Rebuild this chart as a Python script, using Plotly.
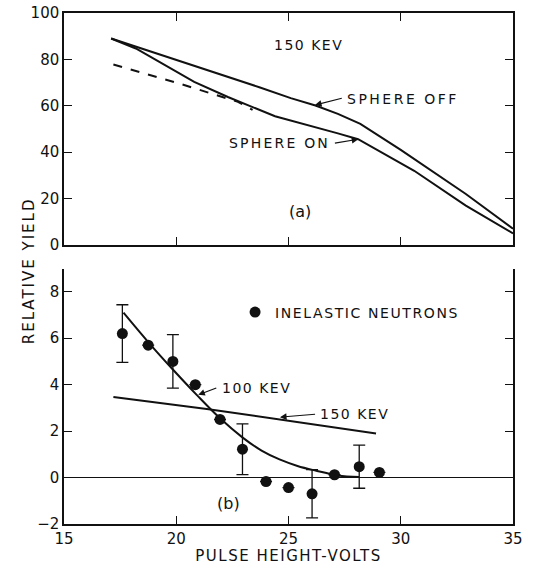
import plotly.graph_objects as go
from plotly.subplots import make_subplots

# ---- Panel (a): 150 keV, relative yield vs pulse height ----
off_x = [17.1, 20.0, 23.7, 25.1, 26.2, 27.2, 28.2, 30.0, 32.9, 35.0]
off_y = [89.0, 79.9, 68.0, 63.3, 60.1, 56.5, 52.2, 41.0, 22.0, 7.0]

on_x = [17.1, 18.2, 20.8, 22.3, 24.4, 26.0, 27.2, 28.1, 30.6, 32.9, 35.0]
on_y = [89.0, 84.7, 70.3, 63.8, 55.5, 51.4, 48.1, 45.6, 32.0, 17.0, 5.0]

dash_x = [17.2, 20.0, 22.75, 23.4]
dash_y = [77.8, 70.0, 61.7, 58.2]

# ---- Panel (b): inelastic neutrons ----
pts_x = [17.6, 18.75, 19.85, 20.85, 21.95, 22.95, 24.0, 25.0, 26.05, 27.05, 28.15, 29.05]
pts_y = [6.2, 5.7, 5.0, 4.0, 2.5, 1.22, -0.17, -0.43, -0.7, 0.12, 0.47, 0.22]
pts_err = [1.24, 0, 1.15, 0, 0, 1.09, 0, 0, 1.04, 0, 0.93, 0]

kev100_x = [17.65, 18.8, 19.87, 20.91, 21.95, 22.96, 23.8, 24.6, 25.4, 26.2, 27.2, 28.15]
kev100_y = [7.1, 5.78, 4.63, 3.56, 2.55, 1.72, 1.16, 0.78, 0.5, 0.3, 0.09, 0.02]

kev150_x = [17.2, 21.36, 28.9]
kev150_y = [3.47, 2.95, 1.9]

x_ticks = [15, 20, 25, 30, 35]

FONT = "DejaVu Sans"
BLACK = "#111111"


def spaced(text, px):
    return '<span style="letter-spacing:%spx">%s</span>' % (px, text)


fig = make_subplots(rows=2, cols=1, shared_xaxes=False, vertical_spacing=0.05)

line_style = dict(color=BLACK, width=2)
fig.add_trace(go.Scatter(x=off_x, y=off_y, mode="lines", line=line_style,
                         showlegend=False), row=1, col=1)
fig.add_trace(go.Scatter(x=on_x, y=on_y, mode="lines", line=line_style,
                         showlegend=False), row=1, col=1)
fig.add_trace(go.Scatter(x=dash_x, y=dash_y, mode="lines",
                         line=dict(color=BLACK, width=2, dash="dash"),
                         showlegend=False), row=1, col=1)

fig.add_trace(go.Scatter(x=kev100_x, y=kev100_y, mode="lines", line=line_style,
                         line_shape="spline", showlegend=False), row=2, col=1)
fig.add_trace(go.Scatter(x=kev150_x, y=kev150_y, mode="lines", line=line_style,
                         showlegend=False), row=2, col=1)
fig.add_trace(go.Scatter(x=pts_x, y=pts_y, mode="markers",
                         name=spaced("INELASTIC NEUTRONS", 1.6),
                         marker=dict(color=BLACK, size=11),
                         error_y=dict(type="data", array=pts_err, visible=True,
                                      color=BLACK, thickness=1.3, width=6),
                         showlegend=True), row=2, col=1)

axis_common = dict(showline=True, linecolor=BLACK, linewidth=1.5,
                   ticks="inside", ticklen=8, tickwidth=1.3, tickcolor=BLACK,
                   showgrid=False, zeroline=False, automargin=False,
                   tickfont=dict(family=FONT, size=15, color=BLACK))

fig.update_xaxes(range=[15, 35], tickvals=x_ticks, mirror="ticks",
                 showticklabels=False, **axis_common, row=1, col=1)
fig.update_yaxes(range=[0, 100], tickvals=[0, 20, 40, 60, 80, 100],
                 mirror="ticks", **axis_common, row=1, col=1)
fig.update_xaxes(range=[15, 35], tickvals=x_ticks, mirror=False,
                 title=dict(text=spaced("PULSE HEIGHT-VOLTS", 1.5), standoff=4,
                            font=dict(family=FONT, size=15, color=BLACK)),
                 **axis_common, row=2, col=1)
yb = dict(axis_common)
yb["zeroline"] = True
fig.update_yaxes(range=[-2, 9], tickvals=[-2, 0, 2, 4, 6, 8], mirror="ticks",
                 zerolinecolor=BLACK, zerolinewidth=1.2,
                 **yb, row=2, col=1)

fig.update_layout(
    xaxis=dict(domain=[0, 1]), yaxis=dict(domain=[0.546, 1]),
    xaxis2=dict(domain=[0, 1]), yaxis2=dict(domain=[0, 0.5]),
)

tf = dict(family=FONT, size=14, color=BLACK)
ann = []
ann.append(dict(x=25.88, y=86.1, xref="x", yref="y", text=spaced("150 KEV", 1.5),
                showarrow=False, font=tf))
ann.append(dict(x=25.5, y=14.5, xref="x", yref="y", text="(a)",
                showarrow=False, font=dict(family=FONT, size=16, color=BLACK)))
ann.append(dict(x=27.52, y=62.85, xref="x", yref="y", text=spaced("SPHERE OFF", 2.5),
                xanchor="left", showarrow=False, font=tf))
ann.append(dict(x=26.92, y=43.8, xref="x", yref="y", text=spaced("SPHERE ON", 2.2),
                xanchor="right", showarrow=False, font=tf))
ann.append(dict(x=21.95, y=3.87, xref="x2", yref="y2", text=spaced("100 KEV", 1.5),
                xanchor="left", showarrow=False, font=tf))
ann.append(dict(x=26.33, y=2.73, xref="x2", yref="y2", text=spaced("150 KEV", 1.5),
                xanchor="left", showarrow=False, font=tf))
ann.append(dict(x=22.33, y=-1.1, xref="x2", yref="y2", text="(b)",
                showarrow=False, font=dict(family=FONT, size=16, color=BLACK)))

arrow = dict(text="", showarrow=True, arrowhead=2, arrowsize=1.1,
             arrowwidth=1.2, arrowcolor=BLACK)
ann.append(dict(x=26.18, y=60.3, ax=27.44, ay=63.4, xref="x", yref="y",
                axref="x", ayref="y", **arrow))
ann.append(dict(x=28.11, y=45.6, ax=27.0, ay=43.8, xref="x", yref="y",
                axref="x", ayref="y", **arrow))
ann.append(dict(x=20.98, y=3.56, ax=21.85, ay=3.88, xref="x2", yref="y2",
                axref="x2", ayref="y2", **arrow))
ann.append(dict(x=24.62, y=2.6, ax=26.25, ay=2.73, xref="x2", yref="y2",
                axref="x2", ayref="y2", **arrow))

ann.append(dict(x=-0.102, y=0.495, xref="paper", yref="paper",
                text=spaced("RELATIVE YIELD", 2), textangle=-90, showarrow=False,
                font=dict(family=FONT, size=15, color=BLACK)))

fig.update_layout(
    annotations=ann,
    width=547, height=565,
    margin=dict(l=64, r=34, t=13, b=41),
    plot_bgcolor="white", paper_bgcolor="white",
    font=dict(family=FONT, color=BLACK),
    legend=dict(x=0.381, y=0.414, xanchor="left", yanchor="middle",
                bgcolor="rgba(0,0,0,0)", font=tf,
                itemclick=False),
)

fig.write_html("out.html")
